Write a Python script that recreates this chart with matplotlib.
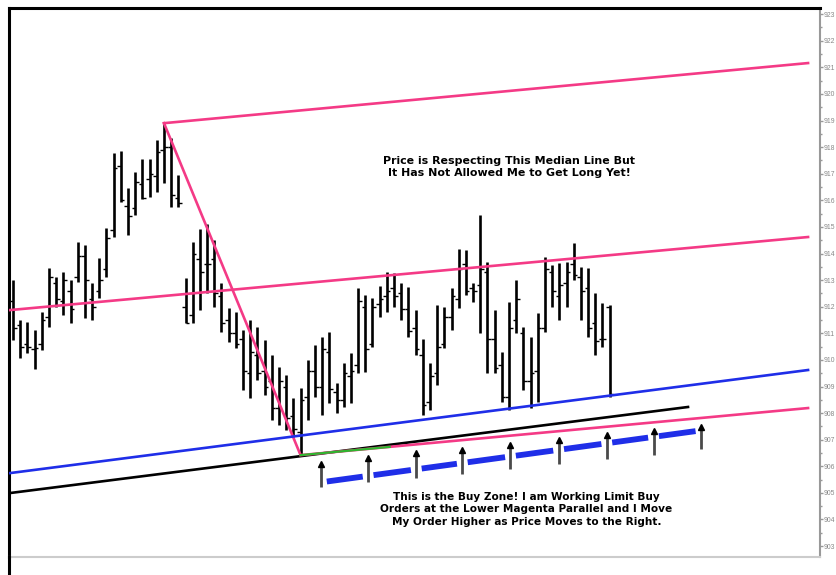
import matplotlib
matplotlib.use("Agg")
import matplotlib.pyplot as plt
from matplotlib.lines import Line2D
import numpy as np

# ---- OHLC data (bar index is position) ----
highs = [913.0, 911.5, 911.42, 911.12, 911.8, 913.45, 913.11, 913.3, 913.0, 914.43,
         914.32, 912.89, 913.83, 914.95, 917.77, 917.85, 916.46, 917.06, 917.55, 917.55,
         918.26, 918.86, 918.34, 916.95, 913.08, 914.43, 914.92, 915.11, 914.5, 912.89,
         911.95, 911.8, 911.12, 911.5, 911.23, 910.74, 910.18, 909.73, 909.43, 908.56,
         908.94, 910.0, 910.56, 910.86, 911.05, 909.13, 909.88, 910.26, 912.7, 912.44,
         912.32, 912.77, 913.3, 913.26, 912.89, 912.74, 911.87, 910.78, 909.88, 912.06,
         911.98, 912.7, 914.17, 914.13, 912.89, 915.44, 913.68, 911.87, 910.29, 912.17,
         913.0, 911.23, 910.86, 911.76, 913.86, 913.56, 913.64, 913.68, 914.39, 913.49,
         913.45, 912.51, 912.14, 912.06]
lows = [910.74, 910.07, 910.26, 909.65, 910.37, 911.23, 911.98, 911.68, 911.38, 912.92,
        911.57, 911.5, 912.32, 913.11, 914.62, 915.93, 914.69, 915.44, 916.05, 916.12,
        916.31, 916.65, 915.74, 915.74, 911.38, 911.38, 911.87, 912.51, 911.98, 911.05,
        910.67, 910.44, 908.86, 908.56, 909.24, 908.68, 907.74, 907.55, 907.36, 907.1,
        906.42, 907.74, 908.6, 907.92, 908.38, 908.0, 908.23, 908.38, 909.5, 909.54,
        910.48, 911.61, 911.8, 911.98, 911.5, 910.86, 910.18, 907.92, 908.11, 909.05,
        910.44, 911.12, 911.95, 912.44, 912.17, 911.01, 909.5, 909.5, 908.41, 908.11,
        911.01, 908.86, 908.19, 908.41, 911.05, 911.98, 911.5, 911.98, 913.0, 911.5,
        910.86, 910.18, 910.48, 908.6]
opens = [912.2, 911.3, 910.6, 910.4, 910.6, 911.6, 912.9, 912.2, 912.6, 913.1,
         913.9, 912.3, 912.6, 913.4, 914.9, 917.3, 915.8, 915.7, 916.6, 916.8,
         916.9, 917.9, 918.0, 916.1, 912.0, 911.7, 913.8, 913.6, 913.8, 912.4,
         911.5, 911.0, 910.8, 909.5, 910.2, 909.6, 909.2, 908.2, 909.0, 907.9,
         907.3, 908.6, 909.6, 909.0, 910.3, 908.8, 908.5, 909.4, 909.8, 912.0,
         910.6, 912.1, 912.4, 912.7, 912.5, 911.9, 911.2, 910.2, 908.4, 909.5,
         910.6, 911.6, 912.3, 913.6, 912.7, 912.8, 913.3, 910.8, 909.8, 908.6,
         911.5, 911.0, 909.2, 909.6, 911.2, 913.3, 912.4, 912.9, 913.6, 913.1,
         912.7, 911.4, 910.8, 912.0]
closes = [911.2, 910.5, 910.5, 910.45, 911.5, 913.1, 912.3, 913.0, 911.9, 913.9,
          913.0, 912.0, 913.0, 914.6, 917.2, 916.0, 915.4, 916.7, 916.1, 917.0,
          917.8, 918.0, 916.2, 915.9, 911.4, 914.0, 913.3, 913.6, 912.5, 911.4,
          911.0, 910.6, 909.6, 910.3, 909.5, 909.0, 908.2, 909.2, 907.8, 907.4,
          908.5, 909.6, 909.0, 910.4, 908.9, 908.5, 909.5, 909.6, 912.2, 910.4,
          912.0, 912.3, 912.6, 912.4, 911.9, 911.1, 910.4, 908.3, 909.4, 910.5,
          911.6, 912.4, 913.4, 912.6, 912.6, 913.4, 910.8, 909.7, 908.6, 911.2,
          912.3, 909.2, 909.5, 911.2, 913.4, 912.6, 912.8, 913.3, 913.2, 912.6,
          911.2, 910.7, 910.8, 908.7]

# ---- Drawn trend lines (bar index, price) ----
upper_parallel = ([21.0, 110.6], [918.9, 921.16])
median_line = ([-0.56, 110.6], [911.87, 914.62])
swing_line = ([21.0, 40.0], [918.9, 906.42])
blue_line = ([-0.56, 110.6], [905.74, 909.62])
black_line = ([-0.56, 93.9], [904.99, 908.23])
lower_parallel = ([40.0, 110.6], [906.42, 908.19])
green_segment = ([40.0, 52.4], [906.42, 906.73])
buy_zone = ([42.9, 95.7], [905.40, 907.35])

arrow_x = [42.9, 49.4, 56.1, 62.5, 69.2, 75.9, 82.6, 89.1, 95.7]
arrow_tip = [906.20, 906.42, 906.61, 906.72, 906.91, 907.10, 907.29, 907.44, 907.59]
arrow_base = [905.22, 905.41, 905.56, 905.71, 905.89, 906.08, 906.27, 906.42, 906.65]

ytick_values = list(range(903, 924))
ytick_labels = [str(v) for v in ytick_values]

note_top = "Price is Respecting This Median Line But\nIt Has Not Allowed Me to Get Long Yet!"
note_bottom = ("This is the Buy Zone! I am Working Limit Buy\n"
               "Orders at the Lower Magenta Parallel and I Move\n"
               "My Order Higher as Price Moves to the Right.")

MAGENTA = "#f43a86"
BLUE = "#1f2ee8"

fig = plt.figure(figsize=(8.36, 5.75), dpi=100)
ax = fig.add_axes([9 / 836, 18 / 575, 811 / 836, 549 / 575])

x = np.arange(len(highs))
ax.vlines(x, lows, highs, color="black", lw=1.9, zorder=3)
ax.hlines(opens, x - 0.5, x, color="black", lw=1.0, zorder=3)
ax.hlines(closes, x, x + 0.5, color="black", lw=1.0, zorder=3)

ax.plot(*upper_parallel, color=MAGENTA, lw=1.9, zorder=4)
ax.plot(*median_line, color=MAGENTA, lw=1.9, zorder=4)
ax.plot(*swing_line, color=MAGENTA, lw=1.9, zorder=4)
ax.plot(*blue_line, color=BLUE, lw=1.9, zorder=4)
ax.plot(*black_line, color="black", lw=1.9, zorder=4)
ax.plot(*lower_parallel, color=MAGENTA, lw=1.9, zorder=4)
ax.plot(*green_segment, color="#2fb52f", lw=1.6, zorder=5)

# buy-zone line drawn as dashes between the arrows
bz_x0, bz_x1 = buy_zone[0]
bz_y0, bz_y1 = buy_zone[1]
gap = 0.75
for xa, xb in zip(arrow_x[:-1], arrow_x[1:]):
    sx = [xa + gap, xb - gap]
    sy = [bz_y0 + (v - bz_x0) * (bz_y1 - bz_y0) / (bz_x1 - bz_x0) for v in sx]
    ax.plot(sx, sy, color=BLUE, lw=4.2, solid_capstyle="butt", zorder=4)

for xa, yt, yb in zip(arrow_x, arrow_tip, arrow_base):
    ax.plot([xa, xa], [yb, yt - 0.15], color="#4a4a4a", lw=2.0, zorder=6,
            solid_capstyle="butt")
    ax.plot([xa], [yt - 0.1], marker="^", color="black", ms=4.5, zorder=7)

ax.text(69.0, 917.25, note_top, ha="center", va="center", fontsize=7.9,
        fontweight="bold", family="DejaVu Sans", linespacing=1.25, zorder=8)
ax.text(71.4, 904.39, note_bottom, ha="center", va="center", fontsize=7.6,
        fontweight="bold", family="DejaVu Sans", linespacing=1.3, zorder=8)

ax.set_xlim(-0.56, 112.26)
ax.set_ylim(902.59, 923.23)

ax.yaxis.tick_right()
ax.set_yticks(ytick_values)
ax.set_yticklabels(ytick_labels, family="Liberation Sans")
ax.set_yticks(np.arange(903.5, 923, 1.0), minor=True)
ax.tick_params(axis="y", which="major", direction="out", length=2, width=1,
               color="#999999", labelsize=4.9, labelcolor="#888888", pad=0.6)
ax.tick_params(axis="y", which="minor", direction="out", length=1.5, width=1,
               color="#999999")
ax.set_xticks([])

ax.spines["top"].set_color("black")
ax.spines["top"].set_linewidth(2.2)
ax.spines["left"].set_color("black")
ax.spines["left"].set_linewidth(2.2)
ax.spines["bottom"].set_color("#cccccc")
ax.spines["bottom"].set_linewidth(1.5)
ax.spines["right"].set_color("#999999")
ax.spines["right"].set_linewidth(1.5)

# left frame line continues down to the figure bottom
fig.add_artist(Line2D([9 / 836, 9 / 836], [0, 18 / 575], color="black", lw=2.2,
                      transform=fig.transFigure))

fig.savefig("out.png", dpi=100)
